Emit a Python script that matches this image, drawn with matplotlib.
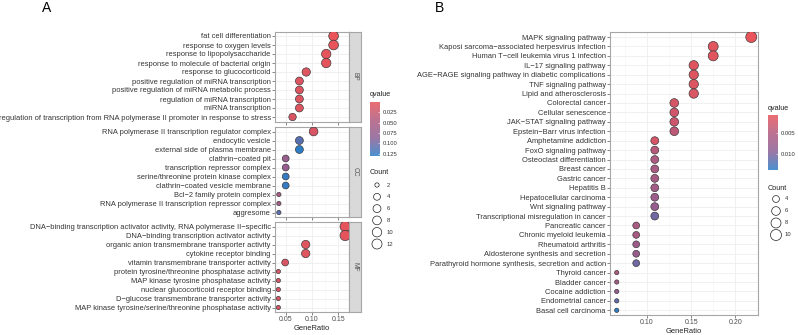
import numpy as np
import matplotlib
matplotlib.use("Agg")
import matplotlib.pyplot as plt
from matplotlib.colors import LinearSegmentedColormap, Normalize

plt.rcParams['font.family'] = ['Liberation Sans', 'DejaVu Sans']

# ---- GO enrichment (panel A) ----
bp_terms = ["fat cell differentiation", "response to oxygen levels",
            "response to lipopolysaccharide", "response to molecule of bacterial origin",
            "response to glucocorticoid", "positive regulation of miRNA transcription",
            "positive regulation of miRNA metabolic process", "regulation of miRNA transcription",
            "miRNA transcription",
            "regulation of transcription from RNA polymerase II promoter in response to stress"]
bp_ratio = [0.141, 0.141, 0.127, 0.127, 0.089, 0.076, 0.076, 0.076, 0.076, 0.063]
bp_count = [11, 11, 10, 10, 7, 6, 6, 6, 6, 5]
bp_q = [0.001, 0.002, 0.004, 0.004, 0.008, 0.010, 0.010, 0.010, 0.010, 0.012]

cc_terms = ["RNA polymerase II transcription regulator complex", "endocytic vesicle",
            "external side of plasma membrane", "clathrin\u2212coated pit",
            "transcription repressor complex", "serine/threonine protein kinase complex",
            "clathrin\u2212coated vesicle membrane", "Bcl\u22122 family protein complex",
            "RNA polymerase II transcription repressor complex", "aggresome"]
cc_ratio = [0.103, 0.076, 0.076, 0.050, 0.050, 0.050, 0.050, 0.037, 0.037, 0.037]
cc_count = [8, 6, 6, 4, 4, 4, 4, 2, 2, 2]
cc_q = [0.012, 0.110, 0.130, 0.072, 0.074, 0.125, 0.125, 0.055, 0.060, 0.110]

mf_terms = ["DNA\u2212binding transcription activator activity, RNA polymerase II\u2212specific",
            "DNA\u2212binding transcription activator activity",
            "organic anion transmembrane transporter activity", "cytokine receptor binding",
            "vitamin transmembrane transporter activity",
            "protein tyrosine/threonine phosphatase activity",
            "MAP kinase tyrosine phosphatase activity", "nuclear glucocorticoid receptor binding",
            "D\u2212glucose transmembrane transporter activity",
            "MAP kinase tyrosine/serine/threonine phosphatase activity"]
mf_ratio = [0.163, 0.163, 0.088, 0.088, 0.049, 0.036, 0.036, 0.036, 0.036, 0.036]
mf_count = [13, 13, 7, 7, 4, 2, 2, 2, 2, 2]
mf_q = [0.004, 0.004, 0.008, 0.008, 0.012, 0.016, 0.016, 0.016, 0.016, 0.016]

# ---- KEGG enrichment (panel B) ----
kegg_terms = ["MAPK signaling pathway", "Kaposi sarcoma\u2212associated herpesvirus infection",
              "Human T\u2212cell leukemia virus 1 infection", "IL\u221217 signaling pathway",
              "AGE\u2212RAGE signaling pathway in diabetic complications", "TNF signaling pathway",
              "Lipid and atherosclerosis", "Colorectal cancer", "Cellular senescence",
              "JAK\u2212STAT signaling pathway", "Epstein\u2212Barr virus infection",
              "Amphetamine addiction", "FoxO signaling pathway", "Osteoclast differentiation",
              "Breast cancer", "Gastric cancer", "Hepatitis B", "Hepatocellular carcinoma",
              "Wnt signaling pathway", "Transcriptional misregulation in cancer",
              "Pancreatic cancer", "Chronic myeloid leukemia", "Rheumatoid arthritis",
              "Aldosterone synthesis and secretion",
              "Parathyroid hormone synthesis, secretion and action", "Thyroid cancer",
              "Bladder cancer", "Cocaine addiction", "Endometrial cancer", "Basal cell carcinoma"]
kegg_ratio = [0.218, 0.175, 0.175, 0.153, 0.153, 0.153, 0.153, 0.131, 0.131, 0.131, 0.131,
              0.109, 0.109, 0.109, 0.109, 0.109, 0.109, 0.109, 0.109, 0.109,
              0.088, 0.088, 0.088, 0.088, 0.088, 0.066, 0.066, 0.066, 0.066, 0.066]
kegg_count = [10, 8, 8, 7, 7, 7, 7, 6, 6, 6, 6, 5, 5, 5, 5, 5, 5, 5, 5, 5,
              4, 4, 4, 4, 4, 3, 3, 3, 3, 3]
kegg_q = [0.0006, 0.0012, 0.0012, 0.0014, 0.0015, 0.0016, 0.0018, 0.0022, 0.0025, 0.0028,
          0.0040, 0.0022, 0.0045, 0.0055, 0.0060, 0.0062, 0.0065, 0.0072, 0.0080, 0.0105,
          0.0058, 0.0060, 0.0070, 0.0076, 0.0105, 0.0055, 0.0065, 0.0082, 0.0112, 0.0137]

go_count_breaks = [2, 4, 6, 8, 10, 12]
go_q_breaks = [0.025, 0.050, 0.075, 0.100, 0.125]
kegg_count_breaks = [4, 6, 8, 10]
kegg_q_breaks = [0.005, 0.010]

W, H = 798, 335
fig = plt.figure(figsize=(W / 100, H / 100), dpi=100)
cmap = LinearSegmentedColormap.from_list("q", ["#E8545A", "#B05A7E", "#8A5F95", "#2C7DC6"])

GRID = "#EEEEEE"
BORDER = "#A6A6A6"
TXT = "#333333"


def px_axes(x0, y0, x1, y1):
    return fig.add_axes([x0 / W, 1 - y1 / H, (x1 - x0) / W, (y1 - y0) / H])


def dot_area(counts, cmin, cmax, dmax, dmin=4.3):
    c = np.asarray(counts, dtype=float)
    d = dmin + (dmax - dmin) * np.sqrt((c - cmin) / (cmax - cmin))
    return (d * 0.72) ** 2


def style(ax, xlim, show_x):
    ax.set_xlim(*xlim)
    ax.set_xticks([0.05, 0.10, 0.15, 0.20])
    ax.set_xticks([0.075, 0.125, 0.175], minor=True)
    ax.set_xlim(*xlim)
    ax.grid(True, which="major", color=GRID, lw=0.6, zorder=0)
    ax.grid(True, which="minor", axis="x", color="#F6F6F6", lw=0.4, zorder=0)
    ax.set_axisbelow(True)
    for s in ax.spines.values():
        s.set_color(BORDER)
        s.set_linewidth(0.8)
    ax.tick_params(axis="both", which="major", length=2, width=0.5, color="#555555",
                   labelsize=5.4, labelcolor=TXT, pad=1)
    ax.tick_params(axis="x", which="minor", length=0)
    ax.tick_params(axis="x", labelsize=5.0, labelcolor="#4D4D4D", labelbottom=show_x)


def dotpanel(ax, terms, ratio, counts, q, norm, cmin, cmax, dmax, xlim, show_x):
    y = np.arange(len(terms))
    ax.scatter(ratio, y, s=dot_area(counts, cmin, cmax, dmax), c=q, cmap=cmap, norm=norm,
               edgecolors="#333333", linewidths=0.45, zorder=3)
    ax.set_yticks(y)
    ax.set_yticklabels(terms)
    ax.set_ylim(len(terms) - 0.5, -0.5)
    style(ax, xlim, show_x)


def expand(vals):
    lo, hi = min(vals), max(vals)
    pad = (hi - lo) * 0.05
    return lo - pad, hi + pad


# ---------- panel A ----------
all_ratio = bp_ratio + cc_ratio + mf_ratio
all_count = bp_count + cc_count + mf_count
all_q = bp_q + cc_q + mf_q
xlim_a = expand(all_ratio)
norm_a = Normalize(min(all_q), max(all_q))
cmin_a, cmax_a = min(all_count), max(all_count)

facets = [("BP", bp_terms, bp_ratio, bp_count, bp_q, 31.5, 121.5),
          ("CC", cc_terms, cc_ratio, cc_count, cc_q, 127, 217),
          ("MF", mf_terms, mf_ratio, mf_count, mf_q, 222, 312)]
for name, terms, ratio, counts, q, top, bot in facets:
    ax = px_axes(275, top, 348.5, bot)
    dotpanel(ax, terms, ratio, counts, q, norm_a, cmin_a, cmax_a, 10.3, xlim_a, name == "MF")
    st = px_axes(348.5, top, 361, bot)
    st.set_facecolor("#D9D9D9")
    st.set_xticks([])
    st.set_yticks([])
    for s in st.spines.values():
        s.set_color(BORDER)
        s.set_linewidth(0.8)
    st.text(0.5, 0.5, name, rotation=-90, ha="center", va="center", fontsize=4.8,
            color="#555555", transform=st.transAxes)
    if name == "MF":
        ax.set_xlabel("GeneRatio", fontsize=5.4, color="#222222", labelpad=1.5)

fig.text(47 / W, 1 - 8 / H, "A", fontsize=10, ha="center", va="center")

# qvalue colorbar A
cb = px_axes(370, 102, 380, 156)
grad = np.linspace(0, 1, 200).reshape(-1, 1)
cb.imshow(grad, aspect="auto", cmap=cmap, alpha=0.85,
          extent=[0, 1, norm_a.vmax, norm_a.vmin], origin="upper")
cb.set_ylim(norm_a.vmax, norm_a.vmin)
cb.set_xticks([])
cb.yaxis.tick_right()
cb.set_yticks(go_q_breaks)
cb.set_yticklabels(["%.3f" % v for v in go_q_breaks])
cb.tick_params(axis="y", length=1.5, width=0.4, color="white", labelsize=4.2,
               labelcolor=TXT, pad=2, direction="in")
for s in cb.spines.values():
    s.set_visible(False)
fig.text(370 / W, 1 - 95 / H, "qvalue", fontsize=5.2, ha="left", va="center", color="#222222")

# Count legend A
fig.text(370 / W, 1 - 173 / H, "Count", fontsize=5.2, ha="left", va="center", color="#222222")
lg = px_axes(368, 179, 398, 250)
lg.set_xlim(0, 30)
lg.set_ylim(71, 0)
lg.axis("off")
ly = np.linspace(6, 65, len(go_count_breaks))
lg.scatter([9] * len(go_count_breaks), ly, s=dot_area(go_count_breaks, cmin_a, cmax_a, 10.3),
           facecolors="none", edgecolors="#222222", linewidths=0.5)
for yy, b in zip(ly, go_count_breaks):
    lg.text(19, yy, str(b), fontsize=4.2, va="center", ha="left", color=TXT)

# ---------- panel B ----------
xlim_b = expand(kegg_ratio)
norm_b = Normalize(min(kegg_q), max(kegg_q))
cmin_b, cmax_b = min(kegg_count), max(kegg_count)
axb = px_axes(610, 32.3, 758, 315)
dotpanel(axb, kegg_terms, kegg_ratio, kegg_count, kegg_q, norm_b, cmin_b, cmax_b, 11.0,
         xlim_b, True)
axb.set_xlabel("GeneRatio", fontsize=5.4, color="#222222", labelpad=1.5)
fig.text(439 / W, 1 - 8 / H, "B", fontsize=10, ha="center", va="center")

cbb = px_axes(768, 115, 778, 170)
cbb.imshow(grad, aspect="auto", cmap=cmap, alpha=0.85,
           extent=[0, 1, norm_b.vmax, norm_b.vmin], origin="upper")
cbb.set_ylim(norm_b.vmax, norm_b.vmin)
cbb.set_xticks([])
cbb.yaxis.tick_right()
cbb.set_yticks(kegg_q_breaks)
cbb.set_yticklabels(["%.3f" % v for v in kegg_q_breaks])
cbb.tick_params(axis="y", length=1.5, width=0.4, color="white", labelsize=4.2,
                labelcolor=TXT, pad=2, direction="in")
for s in cbb.spines.values():
    s.set_visible(False)
fig.text(768 / W, 1 - 108 / H, "qvalue", fontsize=5.2, ha="left", va="center", color="#222222")

fig.text(768 / W, 1 - 188 / H, "Count", fontsize=5.2, ha="left", va="center", color="#222222")
lgb = px_axes(766, 193, 796, 241)
lgb.set_xlim(0, 30)
lgb.set_ylim(48, 0)
lgb.axis("off")
lyb = np.linspace(6, 42, len(kegg_count_breaks))
lgb.scatter([10] * len(kegg_count_breaks), lyb,
            s=dot_area(kegg_count_breaks, cmin_b, cmax_b, 11.0),
            facecolors="none", edgecolors="#222222", linewidths=0.5)
for yy, b in zip(lyb, kegg_count_breaks):
    lgb.text(19, yy, str(b), fontsize=4.2, va="center", ha="left", color=TXT)

fig.savefig("out.png", dpi=100)
